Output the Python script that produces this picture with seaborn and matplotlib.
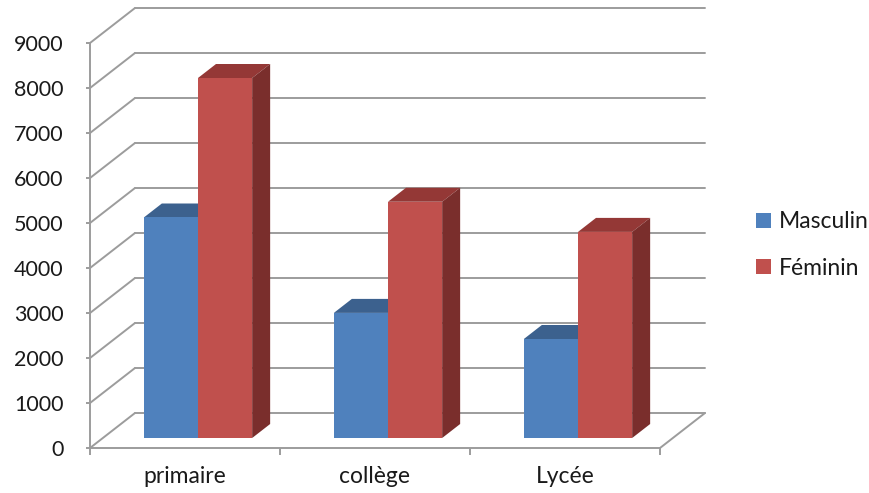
import numpy as np
import pandas as pd
import matplotlib
matplotlib.use("Agg")
import matplotlib.pyplot as plt
from matplotlib.patches import Polygon
from matplotlib.transforms import ScaledTranslation
import seaborn as sns

# ---- data ----
categories = ["primaire", "collège", "Lycée"]
series_names = ["Masculin", "Féminin"]
masculin = [4900, 2780, 2200]
feminin = [8000, 5250, 4580]
y_ticks = [0, 1000, 2000, 3000, 4000, 5000, 6000, 7000, 8000, 9000]

front_colors = ["#4F81BD", "#C0504D"]
top_colors = ["#3C618E", "#943836"]
side_colors = ["#335279", "#7A2E2C"]
grid_color = "#9C9C9C"
text_color = "#1a1a1a"

sns.set_theme(style="white")
plt.rcParams["font.family"] = ["Lato", "DejaVu Sans"]

df = pd.DataFrame({
    "Niveau": categories * 2,
    "Sexe": [series_names[0]] * 3 + [series_names[1]] * 3,
    "Effectif": masculin + feminin,
})

W, H, DPI = 869, 493, 100
fig = plt.figure(figsize=(W / DPI, H / DPI), dpi=DPI)
ax_l, ax_b, ax_w, ax_h = 90, 45, 570, 405
ax = fig.add_axes([ax_l / W, ax_b / H, ax_w / W, ax_h / H])

sns.barplot(data=df, x="Niveau", y="Effectif", hue="Sexe", order=categories,
            hue_order=series_names, palette=front_colors, saturation=1,
            width=0.57, linewidth=0, edgecolor="none", ax=ax, zorder=3)

ax.set_xlim(-0.5, 2.5)
ax.set_ylim(0, 9000)

px_x = ax_w / 3.0
px_y = ax_h / 9000.0

# depth of the floor / walls
DX = 45 / px_x
DY = 35 / px_y
# bar placement inside the depth
shift = ScaledTranslation(13 / DPI, 10 / DPI, fig.dpi_scale_trans)
bdx = 18 / px_x
bdy = 14 / px_y

# walls + grid
for v in y_ticks:
    ax.plot([-0.5, -0.5 + DX], [v, v + DY], color=grid_color, lw=1.4,
            clip_on=False, zorder=1)
    ax.plot([-0.5 + DX, 2.5 + DX], [v + DY, v + DY], color=grid_color, lw=1.4,
            clip_on=False, zorder=1)
ax.plot([2.5, 2.5 + DX], [0, DY], color=grid_color, lw=1.4, clip_on=False, zorder=1)

# 3D faces for the bars
bars = [p for p in ax.patches if p.get_height() > 0]
for p in bars:
    p.set_transform(ax.transData + shift)
    p.set_clip_on(False)
    fc = matplotlib.colors.to_hex(p.get_facecolor())
    idx = 0 if fc.lower() == front_colors[0].lower() else 1
    p.set_zorder(3)
    x0 = p.get_x()
    x1 = x0 + p.get_width()
    h = p.get_height()
    z = 2.5 if idx == 0 else 3.5
    top = Polygon([(x0, h), (x1, h), (x1 + bdx, h + bdy), (x0 + bdx, h + bdy)],
                  closed=True, facecolor=top_colors[idx], edgecolor="none",
                  transform=ax.transData + shift, zorder=z, clip_on=False)
    side = Polygon([(x1, 0), (x1, h), (x1 + bdx, h + bdy), (x1 + bdx, bdy)],
                   closed=True, facecolor=side_colors[idx], edgecolor="none",
                   transform=ax.transData + shift, zorder=z, clip_on=False)
    ax.add_patch(top)
    ax.add_patch(side)

# axes styling
for s in ["top", "right"]:
    ax.spines[s].set_visible(False)
for s in ["left", "bottom"]:
    ax.spines[s].set_color(grid_color)
    ax.spines[s].set_linewidth(1.4)
    ax.spines[s].set_zorder(1)

ax.set_yticks(y_ticks)
ax.set_yticklabels([str(v) for v in y_ticks])
ax.tick_params(axis="y", which="major", left=True, length=3, width=1.4,
               color=grid_color, pad=16, labelsize=15.5, labelcolor=text_color)
ax.set_xticks(range(3))
ax.set_xticklabels(categories)
ax.set_xticks([-0.5, 0.5, 1.5, 2.5], minor=True)
ax.tick_params(axis="x", which="major", bottom=False, length=0, pad=13,
               labelsize=16.5, labelcolor=text_color)
ax.tick_params(axis="x", which="minor", bottom=True, length=5, width=1.4,
               color=grid_color)
ax.set_xlabel("")
ax.set_ylabel("")
ax.grid(False)
ax.patch.set_alpha(0)

sns.move_legend(ax, loc="center left", bbox_to_anchor=(756 / W, 1 - 245 / H),
                bbox_transform=fig.transFigure, frameon=False, title=None,
                borderpad=0, borderaxespad=0,
                handlelength=0.65, handleheight=0.65, handletextpad=0.35,
                labelspacing=1.1, fontsize=16.5)
for t in ax.get_legend().get_texts():
    t.set_color(text_color)

fig.savefig("out.png", dpi=DPI)
